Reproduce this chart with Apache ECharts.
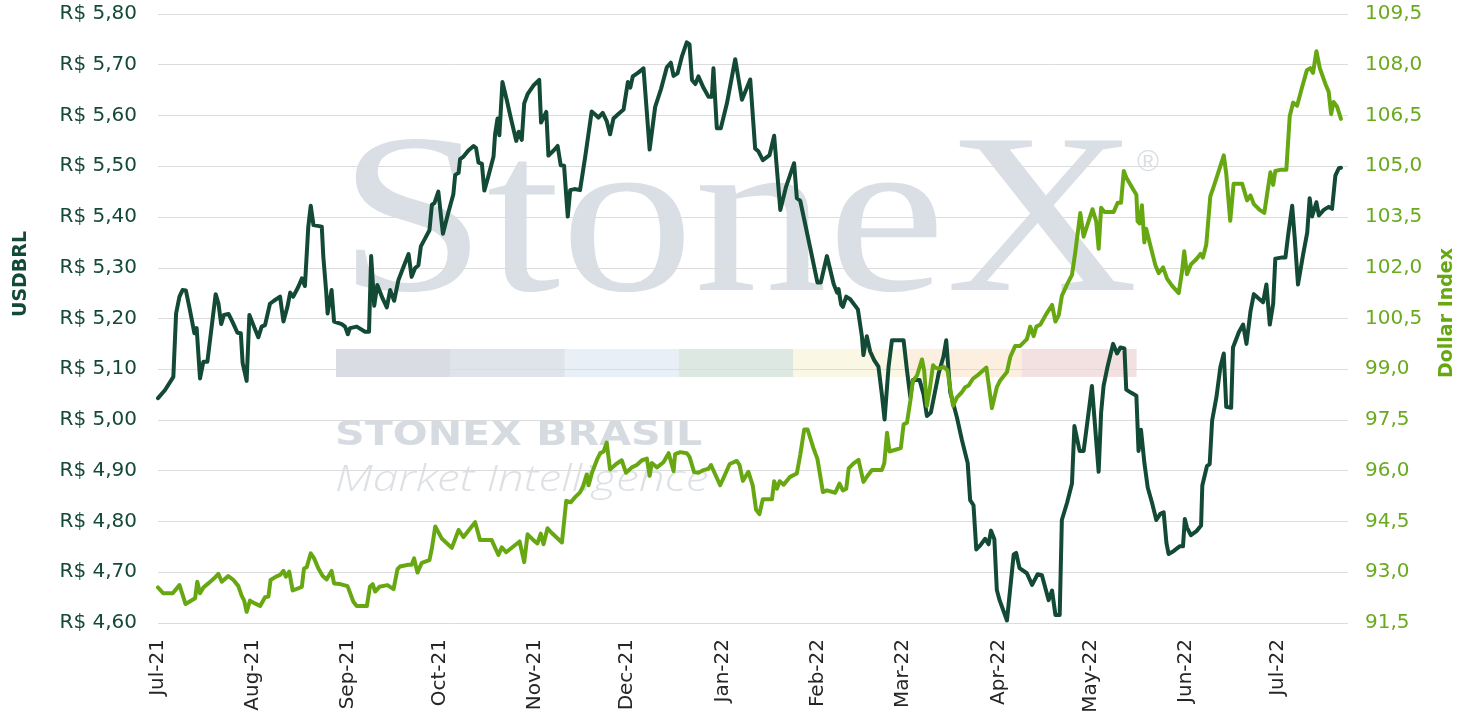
<!DOCTYPE html>
<html>
<head>
<meta charset="utf-8">
<script src="https://cdn.jsdelivr.net/npm/echarts@6/dist/echarts.min.js"></script>
<style>
html,body{margin:0;padding:0;background:#ffffff;}
#chart{width:1470px;height:726px;}
</style>
</head>
<body>
<div id="chart"></div>
<script>
// X positions are days since 2021-07-01
const monthDays = [0,31,62,92,123,153,184,215,243,274,304,335,365];
const monthLabels = ['Jul-21','Aug-21','Sep-21','Oct-21','Nov-21','Dec-21','Jan-22','Feb-22','Mar-22','Apr-22','May-22','Jun-22','Jul-22'];
const usdTicks = ['R$ 4,60','R$ 4,70','R$ 4,80','R$ 4,90','R$ 5,00','R$ 5,10','R$ 5,20','R$ 5,30','R$ 5,40','R$ 5,50','R$ 5,60','R$ 5,70','R$ 5,80'];
const dxyTicks = ['91,5','93,0','94,5','96,0','97,5','99,0','100,5','102,0','103,5','105,0','106,5','108,0','109,5'];

const usdDays = [0,2.3,5.0,5.9,7.0,8.0,9.1,10.4,11.85,12.6,13.7,14.8,16.1,17.5,18.8,19.7,20.6,21.5,23.0,24.4,25.9,27.0,27.6,28.9,29.8,31.3,32.7,33.8,34.9,36.5,37.8,39.8,40.9,42.2,43.1,44.1,45.8,46.9,47.9,49.0,49.8,50.7,53.4,53.9,54.8,55.3,55.9,56.6,57.4,59.9,61.0,61.9,62.6,64.8,67.5,68.8,69.5,70.5,71.5,73.2,74.6,75.7,77.0,78.4,80.0,81.7,82.7,83.8,84.9,85.7,87.1,88.5,89.3,90.1,91.4,92.9,94.7,96.3,96.9,98.0,98.5,99.6,101.2,102.9,103.7,104.5,105.6,106.4,107.7,109.4,109.9,110.7,111.3,112.3,113.7,115.0,116.8,117.6,118.6,119.4,120.5,122.4,124.3,124.9,126.6,127.3,129.0,130.3,131.3,132.4,133.6,134.4,135.8,137.6,139.3,141.4,142.9,143.6,145.0,146.3,147.4,148.5,150.1,151.8,153.2,154.0,154.8,156.7,158.3,160.3,162.1,164.0,165.9,167.2,168.1,169.4,170.8,172.4,173.3,174.1,175.2,176.2,177.9,179.5,180.6,181.1,182.2,183.5,185.5,188.2,190.4,193.1,194.7,195.8,197.2,199.4,200.9,202.9,204.8,207.4,208.3,209.4,212.7,215.0,216.1,218.1,220.3,221.4,221.9,222.7,223.3,224.4,225.7,228.2,229.5,230.0,231.1,232.2,233.5,234.9,236.0,236.9,238.2,239.3,243.1,244.2,245.3,246.1,248.3,249.6,250.7,252.0,254.5,256.1,257.0,258.3,260.5,262.1,264.0,264.8,265.9,266.8,268.1,269.7,270.8,271.6,272.7,273.5,274.4,276.8,279.0,279.8,280.9,283.3,285.0,286.8,288.2,290.4,291.5,292.6,294.0,294.7,296.4,298.0,298.8,300.5,301.8,303.4,304.5,306.7,307.5,308.3,309.6,311.4,312.7,313.8,315.1,315.7,317.2,319.0,319.7,320.5,321.6,322.7,324.1,325.5,326.8,327.9,328.8,329.5,331.2,333.1,334.2,334.8,335.5,336.8,338.6,340.1,340.5,342.0,342.9,343.7,345.1,346.4,347.5,348.3,349.9,350.5,352.4,353.8,354.9,356.2,357.3,358.6,360.3,361.4,362.5,363.6,364.3,366.2,367.6,368.5,369.8,370.6,371.7,373.3,374.7,375.5,376.3,377.7,378.5,380.1,381.7,382.8,383.9,385.0,385.7];
const usdValues = [5.043,5.059,5.085,5.210,5.243,5.256,5.255,5.217,5.171,5.181,5.082,5.115,5.115,5.184,5.248,5.230,5.189,5.207,5.209,5.192,5.172,5.171,5.112,5.077,5.207,5.184,5.163,5.184,5.187,5.229,5.235,5.243,5.194,5.223,5.251,5.243,5.263,5.279,5.264,5.381,5.422,5.384,5.381,5.322,5.256,5.210,5.209,5.256,5.194,5.189,5.184,5.169,5.181,5.184,5.174,5.174,5.323,5.225,5.266,5.240,5.222,5.256,5.235,5.276,5.301,5.327,5.282,5.299,5.305,5.342,5.358,5.374,5.424,5.427,5.450,5.367,5.410,5.445,5.483,5.487,5.514,5.519,5.531,5.540,5.536,5.507,5.505,5.452,5.480,5.519,5.563,5.594,5.561,5.666,5.631,5.596,5.550,5.568,5.552,5.624,5.642,5.659,5.670,5.586,5.607,5.521,5.531,5.540,5.502,5.501,5.401,5.453,5.455,5.453,5.519,5.608,5.600,5.596,5.605,5.589,5.563,5.594,5.603,5.612,5.666,5.655,5.677,5.685,5.693,5.533,5.617,5.652,5.695,5.704,5.678,5.683,5.716,5.744,5.740,5.670,5.662,5.677,5.654,5.637,5.637,5.693,5.575,5.575,5.624,5.711,5.631,5.671,5.535,5.529,5.512,5.522,5.560,5.414,5.460,5.506,5.437,5.432,5.338,5.271,5.271,5.323,5.268,5.251,5.258,5.228,5.223,5.243,5.238,5.218,5.165,5.128,5.165,5.135,5.118,5.105,5.051,5.001,5.105,5.157,5.157,5.098,5.045,5.079,5.079,5.051,5.008,5.015,5.091,5.125,5.157,5.055,5.005,4.961,4.915,4.842,4.832,4.745,4.753,4.766,4.755,4.782,4.765,4.665,4.645,4.605,4.735,4.738,4.708,4.698,4.675,4.696,4.694,4.645,4.664,4.616,4.616,4.803,4.837,4.875,4.988,4.939,4.939,5.014,5.067,4.898,5.014,5.067,5.105,5.150,5.131,5.143,5.141,5.060,5.054,5.048,4.939,4.981,4.916,4.867,4.837,4.803,4.815,4.818,4.758,4.736,4.742,4.751,4.751,4.805,4.788,4.773,4.781,4.792,4.871,4.909,4.913,4.999,5.045,5.105,5.131,5.026,5.024,5.143,5.173,5.188,5.150,5.214,5.248,5.241,5.232,5.267,5.188,5.229,5.318,5.320,5.320,5.365,5.422,5.361,5.267,5.324,5.369,5.437,5.401,5.429,5.403,5.414,5.420,5.416,5.482,5.496,5.497];

const dxyDays = [0,1.7,4.8,7.0,9.0,12.1,12.8,13.7,14.8,16.4,18.3,19.7,20.8,22.9,24.6,26.2,27.3,28.1,28.9,30.0,31.6,33.3,34.9,36.0,36.7,38.5,39.8,40.9,41.7,42.8,43.9,46.9,47.6,48.5,49.8,50.9,52.3,53.7,55.0,56.6,57.4,59.4,61.8,63.7,64.8,68.1,69.1,70.0,70.8,72.2,74.8,76.8,78.1,78.9,81.6,82.7,83.5,84.6,86.0,88.5,89.3,90.4,92.5,95.8,98.0,99.6,103.4,105.0,108.8,111.0,112.1,113.5,117.9,119.4,120.5,122.4,123.7,124.8,125.7,127.0,128.4,131.7,133.1,134.6,136.0,137.6,138.5,139.8,140.4,141.5,143.3,144.2,145.3,146.3,147.4,149.4,151.2,152.6,154.5,156.1,157.8,159.4,160.3,161.0,162.7,164.8,166.5,168.1,168.6,170.3,172.4,173.3,174.8,176.2,177.9,179.5,180.3,181.7,183.3,184.6,186.4,188.7,189.6,190.7,192.5,193.9,195.0,196.1,197.2,200.2,200.9,201.8,202.7,204.0,206.1,208.3,209.4,210.7,211.8,213.7,215.0,216.8,218.1,220.8,222.2,223.3,224.4,225.2,226.8,228.4,230.0,231.1,232.8,236.0,236.8,237.7,238.5,242.2,243.1,244.2,245.3,246.1,247.5,249.1,249.8,250.7,251.6,252.7,253.4,254.5,256.1,257.4,259.2,260.5,262.1,263.2,264.3,265.7,267.6,270.1,271.9,273.5,274.6,276.8,277.9,279.5,281.1,283.3,284.4,285.5,286.4,287.7,289.6,291.5,292.6,293.7,294.7,296.4,298.0,299.1,300.7,301.8,303.4,304.7,305.9,306.7,307.5,308.6,311.6,312.9,314.0,314.9,315.7,317.6,319.0,319.4,320.1,320.8,321.6,322.2,323.6,325.2,326.3,327.7,329.0,330.6,331.7,332.8,333.9,334.6,335.5,336.8,338.6,339.9,340.7,341.8,343.1,344.4,346.4,347.5,348.3,349.6,350.7,353.5,355.1,356.2,357.3,359.2,360.7,361.8,362.7,363.6,364.3,366.2,367.9,369.0,370.1,371.4,373.0,374.6,375.7,376.6,377.7,378.8,380.6,381.7,382.5,383.3,384.4,385.7];
const dxyValues = [92.55,92.38,92.38,92.62,92.06,92.23,92.72,92.38,92.55,92.67,92.82,92.95,92.72,92.89,92.77,92.59,92.30,92.16,91.83,92.16,92.08,92.00,92.26,92.28,92.77,92.87,92.92,93.04,92.87,93.02,92.46,92.57,93.11,93.15,93.56,93.41,93.11,92.89,92.79,93.04,92.67,92.65,92.59,92.13,92.00,92.00,92.57,92.65,92.43,92.57,92.62,92.50,93.09,93.17,93.22,93.22,93.41,92.99,93.28,93.36,93.71,94.35,94.00,93.72,94.25,94.04,94.48,93.95,93.95,93.51,93.74,93.59,93.91,93.30,94.12,93.95,93.85,94.14,93.83,94.30,94.16,93.88,95.11,95.07,95.22,95.36,95.52,95.89,95.57,95.94,96.36,96.52,96.57,96.83,96.04,96.20,96.31,95.94,96.10,96.17,96.31,96.36,95.85,96.23,96.10,96.25,96.52,95.99,96.49,96.55,96.52,96.41,95.96,95.94,96.02,96.06,96.17,95.89,95.57,95.83,96.20,96.29,96.17,95.70,95.97,95.57,94.85,94.72,95.16,95.16,95.69,95.47,95.69,95.59,95.82,95.92,96.47,97.22,97.22,96.67,96.35,95.37,95.42,95.35,95.62,95.42,95.47,96.07,96.22,96.32,95.67,95.82,96.02,96.02,96.22,97.12,96.57,96.67,97.37,97.42,98.07,98.65,98.82,99.29,98.97,97.92,98.39,99.12,99.05,99.02,99.07,98.97,97.92,98.17,98.32,98.47,98.52,98.72,98.85,99.05,97.85,98.47,98.67,98.92,99.37,99.69,99.69,99.89,100.26,99.98,100.26,100.32,100.63,100.90,100.41,100.60,101.17,101.51,101.79,102.47,103.62,102.92,103.37,103.73,103.37,102.56,103.77,103.65,103.65,103.92,103.92,104.86,104.67,104.37,104.16,103.37,103.31,103.85,102.75,103.15,102.64,102.07,101.84,102.01,101.68,101.47,101.36,101.25,101.90,102.49,101.81,102.10,102.26,102.41,102.30,102.69,104.11,104.45,105.01,105.32,104.78,103.39,104.48,104.48,103.99,104.14,103.88,103.71,103.62,104.28,104.82,104.45,104.86,104.90,104.90,106.48,106.88,106.79,107.33,107.84,107.90,107.76,108.40,107.90,107.44,107.20,106.54,106.90,106.77,106.40];

const usdData = usdDays.map((d, i) => [d, usdValues[i]]);
const dxyData = dxyDays.map((d, i) => [d, dxyValues[i]]);

const USD_COLOR = '#134a35';
const DXY_COLOR = '#67a812';
const FONT = 'DejaVu Sans';

const wmColors = ['#d9dde3','#dfe4eb','#e9eff7','#dde8e2','#fbf7e5','#fcefdf','#f3e0e1'];
const wmGraphics = [];
wmColors.forEach((c, i) => {
  wmGraphics.push({type:'rect', z:-10, silent:true, shape:{x:336 + i*114.3, y:349, width:114.8, height:28}, style:{fill:c}});
});
wmGraphics.push({type:'text', z:-10, silent:true, x:338, y:230, scaleX:1.17,
  style:{text:'StoneX', font:'normal 228px "Liberation Serif"', fill:'#dadfe6', align:'left', verticalAlign:'middle'}});
wmGraphics.push({type:'text', z:-10, silent:true, x:1137, y:163,
  style:{text:'®', font:'normal 30px "Liberation Sans"', fill:'#dadfe6', align:'left', verticalAlign:'middle'}});
wmGraphics.push({type:'text', z:-10, silent:true, x:335, y:436, scaleX:1.21,
  style:{text:'STONEX BRASIL', font:'bold 34px "DejaVu Sans"', fill:'#d6dbe2', align:'left', verticalAlign:'middle'}});
wmGraphics.push({type:'text', z:-10, silent:true, x:335, y:481, scaleX:1.28,
  style:{text:'Market Intelligence', font:'italic 300 36px "Open Sans"', fill:'#dde1e6', align:'left', verticalAlign:'middle'}});
// axis titles
wmGraphics.push({type:'text', silent:true, x:21, y:274, rotation:Math.PI/2,
  style:{text:'USDBRL', font:'bold 19px "DejaVu Sans"', fill:USD_COLOR, align:'center', verticalAlign:'middle'}});
wmGraphics.push({type:'text', silent:true, x:1447, y:313, rotation:Math.PI/2,
  style:{text:'Dollar Index', font:'bold 19px "DejaVu Sans"', fill:DXY_COLOR, align:'center', verticalAlign:'middle'}});

const chart = echarts.init(document.getElementById('chart'), null, {renderer:'canvas'});
chart.setOption({
  backgroundColor:'#ffffff',
  animation:false,
  graphic: wmGraphics,
  grid:{left:158, right:122, top:14, bottom:103, containLabel:false},
  xAxis:{
    type:'value', min:0, max:388,
    axisLine:{show:false}, axisTick:{show:false}, splitLine:{show:false},
    axisLabel:{
      customValues: monthDays,
      rotate:90, margin:16,
      color:'#262626', fontFamily:FONT, fontSize:20,
      formatter:(v)=>{ const k = monthDays.indexOf(Math.round(v)); return k>=0 ? monthLabels[k] : ''; }
    }
  },
  yAxis:[
    {
      type:'value', min:4.6, max:5.8, interval:0.1, position:'left',
      axisLine:{show:false}, axisTick:{show:false},
      splitLine:{show:true, lineStyle:{color:'#dcdcdc', width:1}},
      axisLabel:{margin:21, color:USD_COLOR, fontFamily:FONT, fontSize:20,
        formatter:(v)=> usdTicks[Math.round((v-4.6)/0.1)] || ''}
    },
    {
      type:'value', min:91.5, max:109.5, interval:1.5, position:'right',
      axisLine:{show:false}, axisTick:{show:false}, splitLine:{show:false},
      axisLabel:{margin:17, color:'#6aaa1e', fontFamily:FONT, fontSize:20,
        formatter:(v)=> dxyTicks[Math.round((v-91.5)/1.5)] || ''}
    }
  ],
  series:[
    {name:'USDBRL', type:'line', yAxisIndex:0, data:usdData, showSymbol:false, symbol:'none',
      lineStyle:{color:USD_COLOR, width:4, cap:'round', join:'round'}, z:3},
    {name:'Dollar Index', type:'line', yAxisIndex:1, data:dxyData, showSymbol:false, symbol:'none',
      lineStyle:{color:DXY_COLOR, width:4, cap:'round', join:'round'}, z:4}
  ]
});
</script>
</body>
</html>
